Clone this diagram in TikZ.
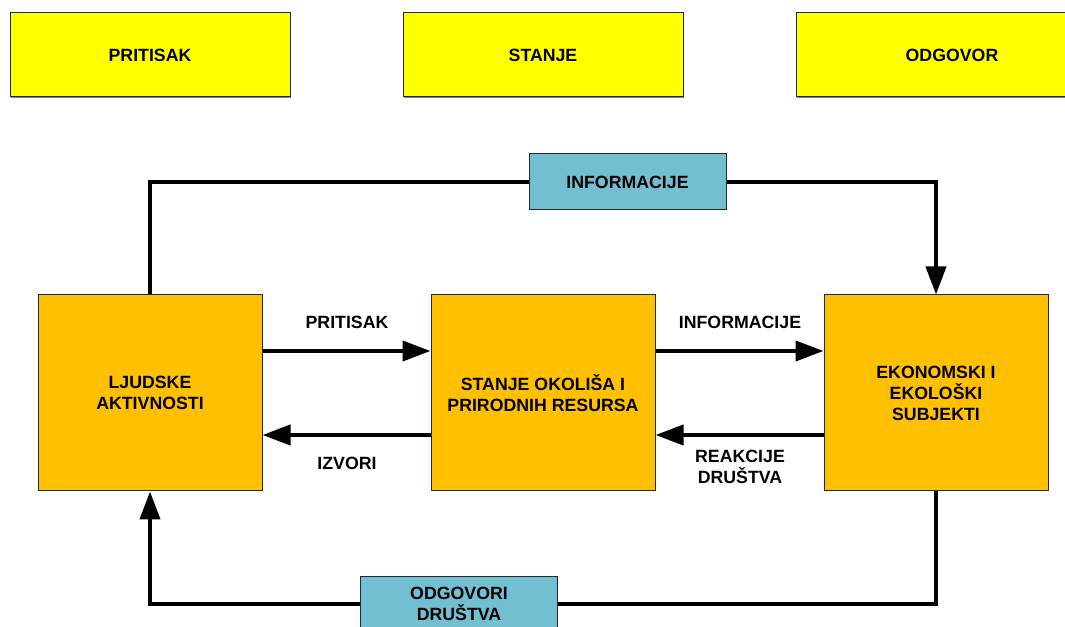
\documentclass[tikz,border=0pt]{standalone}
\usepackage{fontspec}
\setmainfont{Liberation Sans}
\usetikzlibrary{arrows.meta,calc,shadows}

\definecolor{hdrYellow}{RGB}{255,255,0}
\definecolor{boxOrange}{RGB}{255,192,0}
\definecolor{boxBlue}{RGB}{114,191,210}

\begin{document}
\begin{tikzpicture}[x=0.75pt, y=-0.75pt,
	txt/.style={font=\fontsize{13.3pt}{15.8pt}\selectfont\bfseries, align=center},
	hdr/.style={txt, draw=black!85, line width=0.75pt, fill=hdrYellow, minimum width=210pt, minimum height=63pt,
		drop shadow={shadow xshift=0.8pt, shadow yshift=-1pt, fill=black!50, opacity=1}},
	block/.style={txt, draw=black!85, line width=0.75pt, fill=boxOrange, minimum width=168pt, minimum height=147pt, inner sep=0pt},
	tag/.style={txt, draw=black!85, line width=0.75pt, fill=boxBlue, minimum width=147.75pt, minimum height=42pt},
	link/.style={line width=3pt, black},
	arr/.style={link, -{Triangle[width=15pt, length=21pt]}}]
	\path[use as bounding box, clip] (0,0) rectangle (1065,627);

	% header row
	\node[hdr] (hdrP) at (150,55) {PRITISAK};
	\node[hdr] (hdrS) at (543,55) {STANJE};
	\node[hdr, minimum width=234pt] (hdrO) at (952,55) {ODGOVOR};

	% main blocks
	\node[block] (human) at (150,393) {LJUDSKE\\AKTIVNOSTI};
	\node[block] (state) at (543,393) {STANJE OKOLIŠA I\\PRIRODNIH RESURSA};
	\node[block] (subj) at (936,393) {EKONOMSKI I\\EKOLOŠKI\\SUBJEKTI};

	% feedback boxes
	\node[tag] (info) at (627.5,182) {INFORMACIJE};
	\node[tag] (resp) at (459,604) {ODGOVORI\\DRUŠTVA};

	% outer loop
	\draw[link] (info.west) -| (human.north);
	\draw[arr] (info.east) -| (subj.north);
	\draw[link] (resp.east) -| (subj.south);
	\draw[arr] (resp.west) -| (human.south);

	% inner arrows
	\draw[arr] ($(human.east)+(0,-42)$) -- ($(state.west)+(0,-42)$);
	\draw[arr] ($(state.west)+(0,42)$) -- ($(human.east)+(0,42)$);
	\draw[arr] ($(state.east)+(0,-42)$) -- ($(subj.west)+(0,-42)$);
	\draw[arr] ($(subj.west)+(0,42)$) -- ($(state.east)+(0,42)$);

	\node[txt] (lblPress) at (347,322) {PRITISAK};
	\node[txt] (lblSrc) at (347,463) {IZVORI};
	\node[txt] (lblInfo) at (740,322) {INFORMACIJE};
	\node[txt] (lblReact) at (740,467) {REAKCIJE\\DRUŠTVA};
\end{tikzpicture}
\end{document}
